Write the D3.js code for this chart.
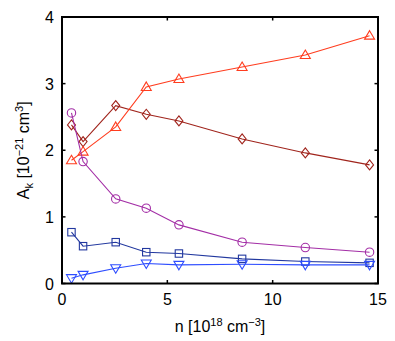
<!DOCTYPE html>
<html>
<head>
<meta charset="utf-8">
<script src="https://cdn.jsdelivr.net/npm/d3@7"></script>
<style>
 body { margin: 0; background: #fff; }
 text { font-family: "Liberation Sans", Arial, sans-serif; }
</style>
</head>
<body>
<svg width="395" height="341"></svg>
<script>
// density n [10^18 cm^-3]
var density = [0.45, 1.0, 2.55, 4.0, 5.55, 8.55, 11.55, 14.6];

var triUp   = [1.85, 1.98, 2.35, 2.95, 3.07, 3.25, 3.43, 3.72];
var diamond = [2.38, 2.13, 2.67, 2.54, 2.44, 2.17, 1.96, 1.78];
var circle  = [2.56, 1.83, 1.27, 1.13, 0.88, 0.62, 0.54, 0.47];
var square  = [0.77, 0.56, 0.62, 0.47, 0.45, 0.37, 0.33, 0.31];
var triDown = [0.08, 0.13, 0.23, 0.30, 0.28, 0.29, 0.28, 0.28];

var xTicks = [0, 5, 10, 15];
var yTicks = [0, 1, 2, 3, 4];

var series = [
  {vals: diamond, color: "#a0241c", sym: "diamond"},
  {vals: triUp,   color: "#ff3d1f", sym: "up"},
  {vals: circle,  color: "#a32ea6", sym: "circle"},
  {vals: square,  color: "#22389f", sym: "square"},
  {vals: triDown, color: "#2e4dff", sym: "down"}
];

var svg = d3.select("svg");
var pLeft = 62, pRight = 378, pTop = 17, pBottom = 283.5;

var x = d3.scaleLinear().domain([0, 15]).range([pLeft, pRight]);
var y = d3.scaleLinear().domain([0, 4]).range([pBottom, pTop]);

var g = svg.append("g");

// data lines + markers
series.forEach(function(s) {
  var pts = density.map(function(d, i) { return [x(d), y(s.vals[i])]; });
  g.append("path")
    .attr("d", d3.line()(pts))
    .attr("fill", "none")
    .attr("stroke", s.color)
    .attr("stroke-width", 1.1);

  pts.forEach(function(p) {
    var m;
    if (s.sym == "circle") {
      m = g.append("circle").attr("cx", p[0]).attr("cy", p[1]).attr("r", 4.2);
    } else if (s.sym == "square") {
      m = g.append("rect").attr("x", p[0] - 3.7).attr("y", p[1] - 3.7)
        .attr("width", 7.4).attr("height", 7.4);
    } else if (s.sym == "diamond") {
      m = g.append("path").attr("d",
        "M" + p[0] + "," + (p[1] - 5) + "L" + (p[0] + 4) + "," + p[1] +
        "L" + p[0] + "," + (p[1] + 5) + "L" + (p[0] - 4) + "," + p[1] + "Z");
    } else if (s.sym == "up") {
      m = g.append("path").attr("d",
        "M" + p[0] + "," + (p[1] - 5) + "L" + (p[0] + 5) + "," + (p[1] + 3.5) +
        "L" + (p[0] - 5) + "," + (p[1] + 3.5) + "Z");
    } else {
      m = g.append("path").attr("d",
        "M" + p[0] + "," + (p[1] + 5) + "L" + (p[0] + 5) + "," + (p[1] - 3.5) +
        "L" + (p[0] - 5) + "," + (p[1] - 3.5) + "Z");
    }
    m.attr("fill", "none").attr("stroke", s.color).attr("stroke-width", 1.1);
  });
});

// frame
svg.append("rect")
  .attr("x", pLeft).attr("y", pTop)
  .attr("width", pRight - pLeft).attr("height", pBottom - pTop)
  .attr("fill", "none").attr("stroke", "#000").attr("stroke-width", 2);

// ticks, inward on all four sides
var tk = 3.5;
xTicks.forEach(function(t) {
  svg.append("line").attr("x1", x(t)).attr("x2", x(t))
    .attr("y1", pBottom).attr("y2", pBottom - tk).attr("stroke", "#000").attr("stroke-width", 1.5);
  svg.append("line").attr("x1", x(t)).attr("x2", x(t))
    .attr("y1", pTop).attr("y2", pTop + tk).attr("stroke", "#000").attr("stroke-width", 1.5);
  svg.append("text").attr("x", x(t)).attr("y", pBottom + 21)
    .attr("text-anchor", "middle").attr("font-size", 16).text(t);
});
yTicks.forEach(function(t) {
  svg.append("line").attr("x1", pLeft).attr("x2", pLeft + tk)
    .attr("y1", y(t)).attr("y2", y(t)).attr("stroke", "#000").attr("stroke-width", 1.5);
  svg.append("line").attr("x1", pRight).attr("x2", pRight - tk)
    .attr("y1", y(t)).attr("y2", y(t)).attr("stroke", "#000").attr("stroke-width", 1.5);
  svg.append("text").attr("x", pLeft - 8).attr("y", y(t) + 6)
    .attr("text-anchor", "end").attr("font-size", 16).text(t);
});

// x label
var xl = svg.append("text").attr("x", x(7.5)).attr("y", 332)
  .attr("text-anchor", "middle").attr("font-size", 16);
xl.append("tspan").text("n [10");
xl.append("tspan").attr("dy", -6).attr("font-size", 11).text("18");
xl.append("tspan").attr("dy", 6).text(" cm");
xl.append("tspan").attr("dy", -6).attr("font-size", 11).text("\u22123");
xl.append("tspan").attr("dy", 6).text("]");

// y label
var yl = svg.append("text")
  .attr("transform", "translate(29," + y(2) + ") rotate(-90)")
  .attr("text-anchor", "middle").attr("font-size", 16);
yl.append("tspan").text("A");
yl.append("tspan").attr("dy", 4).attr("font-size", 11).text("k");
yl.append("tspan").attr("dy", -4).text(" [10");
yl.append("tspan").attr("dy", -6).attr("font-size", 11).text("\u221221");
yl.append("tspan").attr("dy", 6).text(" cm");
yl.append("tspan").attr("dy", -6).attr("font-size", 11).text("3");
yl.append("tspan").attr("dy", 6).text("]");
</script>
</body>
</html>
